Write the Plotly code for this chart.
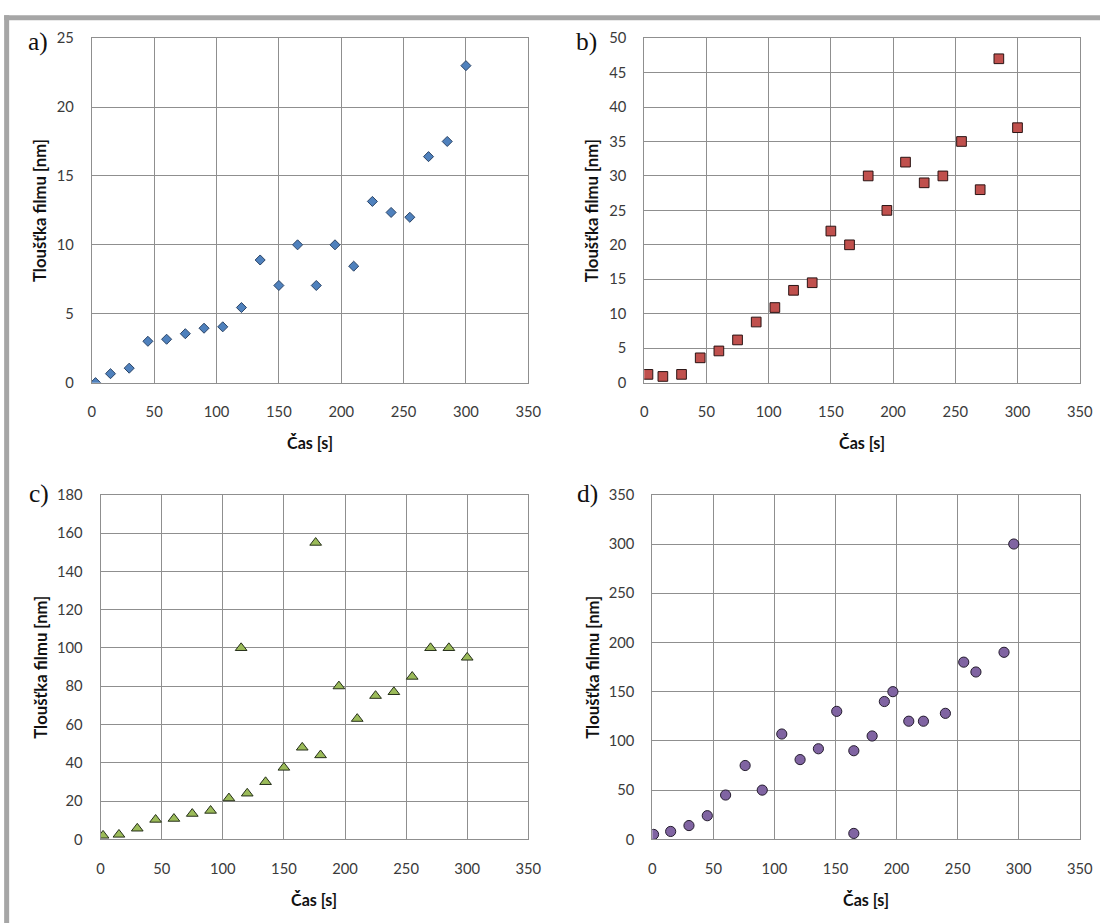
import plotly.graph_objects as go

# Time [s] and film thickness [nm] for the four deposition series
time_a = [3, 15, 30, 45, 60, 75, 90, 105, 120, 135, 150, 165, 180, 195, 210, 225, 240, 255, 270, 285, 300]
thick_a = [0, 0.65, 1.05, 3.0, 3.15, 3.55, 3.95, 4.05, 5.45, 8.9, 7.05, 10, 7.05, 10, 8.45, 13.15, 12.35, 12, 16.4, 17.5, 23]

time_b = [3, 15, 30, 45, 60, 75, 90, 105, 120, 135, 150, 165, 180, 195, 210, 225, 240, 255, 270, 285, 300]
thick_b = [1.2, 0.9, 1.2, 3.6, 4.6, 6.2, 8.8, 10.9, 13.4, 14.5, 22, 20, 30, 25, 32, 29, 30, 35, 28, 47, 37]

time_c = [2, 15, 30, 45, 60, 75, 90, 105, 115, 120, 135, 150, 165, 176, 180, 195, 210, 225, 240, 255, 270, 285, 300]
thick_c = [2, 2.5, 5.7, 10.3, 10.8, 13.4, 15, 21.5, 100, 24, 30, 37.5, 48, 155, 44, 80, 63, 75, 77, 85, 100, 100, 95]

time_d = [1, 15, 30, 45, 60, 76, 90, 106, 121, 136, 151, 165, 165, 180, 190, 197, 210, 222, 240, 255, 265, 288, 296]
thick_d = [5, 8, 14, 24, 45, 75, 50, 107, 81, 92, 130, 90, 6, 105, 140, 150, 120, 120, 128, 180, 170, 190, 300]

y_max = [25, 50, 180, 350]
y_step = [5, 5, 20, 50]
panel_labels = ["a)", "b)", "c)", "d)"]
x_title = "Čas [s]"
y_title = "Tloušťka filmu [nm]"

# Layout is written in target pixels; K converts them to figure units,
# M is the page's default body margin.
K = 1 / 0.982
M = 8
W = round(1101 * K - M)
H = round(923 * K - M)


def fx(x):
    return x * K - M


def px(x):
    return fx(x) / W


def py(y):
    return (H - fx(y)) / H


FONT = "Lato, 'Open Sans', sans-serif"
GRID = "#8F8F8F"

# plot-area boxes in target pixels: (left, right, top, bottom)
boxes = [(95.4, 530.7, 36, 381), (646.3, 1080.6, 36, 381),
         (104.2, 530.7, 493.3, 838.3), (654.4, 1080.6, 493.3, 838.3)]

series = [
    (time_a, thick_a, "diamond", 7.6, "#4F81BD", "#2B4466"),
    (time_b, thick_b, "square", 9.5, "#C0504D", "#2A1414"),
    (time_c, thick_c, "triangle-up", 10, "#9BBB59", "#26301A"),
    (time_d, thick_d, "circle", 10, "#8064A2", "#241C2E"),
]

label_pos = [(30, 39.5), (576.5, 39.5), (31, 492.5), (577.5, 492.5)]

fig = go.Figure()
annotations = []

for i, ((xs, ys, sym, size, fill, edge), (l, r, t, b)) in enumerate(zip(series, boxes)):
    n = "" if i == 0 else str(i + 1)
    fig.add_trace(go.Scatter(
        x=xs, y=ys, mode="markers", xaxis="x" + n, yaxis="y" + n,
        marker=dict(symbol=sym, size=size * K, color=fill, line=dict(color=edge, width=1)),
        showlegend=False, hoverinfo="x+y",
    ))
    common = dict(showgrid=True, gridcolor=GRID, gridwidth=1, showline=True,
                  linecolor=GRID, linewidth=1, mirror=True, zeroline=False,
                  ticks="", tickfont=dict(family=FONT, size=14.5 * K, color="#3A3A3A"))
    fig.update_layout({
        "xaxis" + n: dict(domain=[px(l), px(r)], range=[0, 350], dtick=50, tick0=0,
                          anchor="y" + n, ticklabelstandoff=round(16 * K), **common),
        "yaxis" + n: dict(domain=[py(b), py(t)], range=[0, y_max[i]],
                          dtick=y_step[i], tick0=0, anchor="x" + n,
                          ticklabelstandoff=round(14 * K), **common),
    })
    cx = (l + r) / 2
    annotations.append(dict(x=px(cx), y=py(b + 60), xref="paper", yref="paper",
                            text="<b>" + x_title + "</b>", showarrow=False,
                            xanchor="center", yanchor="middle",
                            font=dict(family=FONT, size=15.8 * K, color="#111")))
    annotations.append(dict(x=px(44.5 if i % 2 == 0 else 595), y=py((t + b) / 2),
                            xref="paper", yref="paper",
                            text="<b>" + y_title + "</b>", showarrow=False, textangle=-90,
                            xanchor="center", yanchor="middle",
                            font=dict(family=FONT, size=16.4 * K, color="#111")))
    lx, ly = label_pos[i]
    annotations.append(dict(x=px(lx), y=py(ly), xref="paper", yref="paper",
                            text=panel_labels[i], showarrow=False,
                            xanchor="left", yanchor="middle",
                            font=dict(family="'Liberation Serif', serif", size=25 * K, color="#111")))

# grey frame along the top and left edges
shapes = [
    dict(type="rect", xref="paper", yref="paper", x0=px(8), x1=1.0,
         y0=py(18), y1=py(13), fillcolor="#A6A6A6", line=dict(width=0), layer="below"),
    dict(type="rect", xref="paper", yref="paper", x0=px(8), x1=px(13),
         y0=0, y1=py(13), fillcolor="#A6A6A6", line=dict(width=0), layer="below"),
]

fig.update_layout(width=W, height=H, margin=dict(l=0, r=0, t=0, b=0),
                  paper_bgcolor="white", plot_bgcolor="white",
                  annotations=annotations, shapes=shapes)

fig.write_html("out.html")
